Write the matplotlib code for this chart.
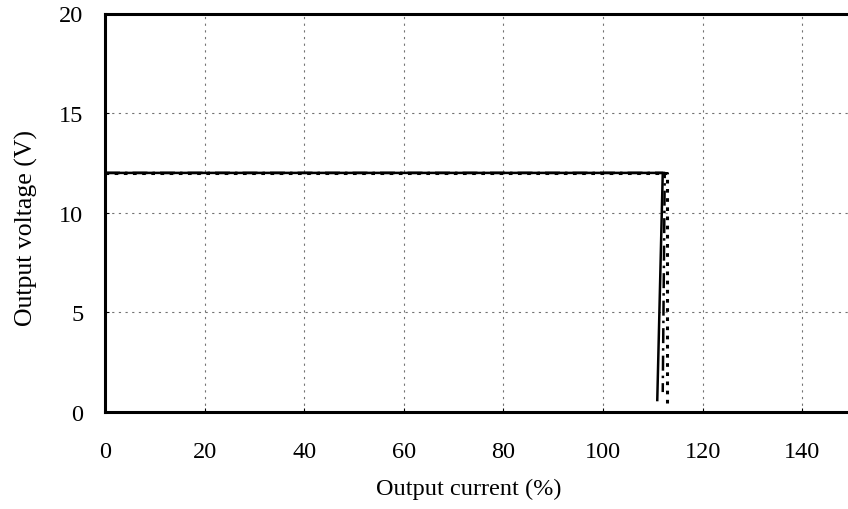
import numpy as np
import matplotlib.pyplot as plt

plt.rcParams['font.family'] = ['Liberation Serif', 'DejaVu Serif']

# characteristic curves: output voltage (V) vs output current (%)
solid_x = [0, 112.0, 110.9]
solid_y = [12, 12, 0.6]
dashdot_x = [0, 112.4, 112.0]
dashdot_y = [12, 12, 1.0]
dotted_x = [0, 112.9, 112.9]
dotted_y = [12, 12, 0.3]

xticks = [0, 20, 40, 60, 80, 100, 120, 140]
yticks = [0, 5, 10, 15, 20]

fig = plt.figure(figsize=(8.48, 5.10), dpi=100)
ax = fig.add_axes([105 / 848, 97 / 510, 743 / 848, 398.5 / 510])

ax.plot(dotted_x, dotted_y, color='black', lw=2.2, linestyle=(0, (1.2, 1.8)))
ax.plot(dashdot_x, dashdot_y, color='black', lw=1.8, linestyle=(0, (6, 2, 1, 2)))
ax.plot(solid_x, solid_y, color='black', lw=1.8)

ax.set_xlim(0, 149.2)
ax.set_ylim(0, 20)
ax.set_xticks(xticks)
ax.set_yticks(yticks)
ax.grid(True, color='0.45', linestyle=(0, (2, 4)), lw=0.8)

for side in ['left', 'bottom', 'top']:
    ax.spines[side].set_linewidth(2.2)
ax.spines['right'].set_visible(False)

ax.tick_params(axis='both', direction='in', length=3, labelsize=17.5)
ax.tick_params(axis='x', pad=21)
ax.tick_params(axis='y', pad=15.5)

ax.set_xlabel('Output current (%)', fontsize=17.5, labelpad=11)
ax.set_ylabel('Output voltage (V)', fontsize=18.5, labelpad=15)
ax.xaxis.label.set_x(0.49)
ax.yaxis.label.set_y(0.464)

fig.savefig('out.png', dpi=100)
